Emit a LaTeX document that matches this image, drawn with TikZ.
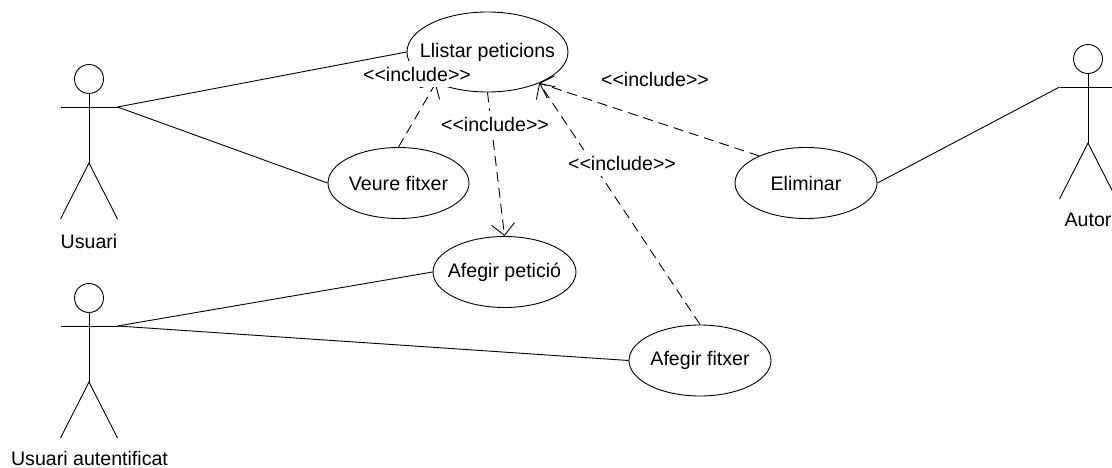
\documentclass[tikz,border=0pt]{standalone}
\usepackage{fontspec}
\setmainfont{Liberation Sans}
\usetikzlibrary{shapes.geometric,arrows.meta}

\tikzset{
  usecase/.style={draw,ellipse,inner xsep=-30pt,inner ysep=-10pt,minimum width=#1,minimum height=71pt},
  includelabel/.style={fill=white,inner sep=1pt,minimum height=26pt},
  actorhead/.style={draw,circle,inner sep=0pt,minimum size=29pt},
  include/.style={dashed,dash pattern=on 10pt off 6pt,-{Straight Barb[length=11.5pt,width=23pt]}},
}

% stick figure: name, x of the body, y of the arms
\newcommand{\actor}[3]{
  \node[actorhead] (#1head) at (#2,#3-28) {};
  \coordinate (#1left) at (#2-28.5,#3);
  \coordinate (#1right) at (#2+28.5,#3);
  \coordinate (#1hip) at (#2,#3+56);
  \coordinate (#1footl) at (#2-28.5,#3+112);
  \coordinate (#1footr) at (#2+28.5,#3+112);
  \draw (#1head) -- (#1hip);
  \draw (#1left) -- (#1right);
  \draw (#1footl) -- (#1hip) -- (#1footr);
}

\begin{document}
\begin{tikzpicture}[x=1pt,y=-1pt,line width=0.9pt,font=\fontsize{19.6}{22}\selectfont]

\useasboundingbox (0,0) rectangle (1112,468);

\actor{usuari}{89}{107}
\actor{autenticat}{89}{326}
\actor{autor}{1088}{87}

\node (usuarilabel) at (89,241) {Usuari};
\node (autenticatlabel) at (89.5,458) {Usuari autentificat};
\node (autorlabel) at (1088,220) {Autor};

\node[usecase=161pt,minimum height=80pt] (llistar) at (487.5,52) {Llistar peticions};
\node[usecase=141pt] (veure) at (398.5,183) {Veure fitxer};
\node[usecase=143pt] (afegirpeticio) at (504.5,272) {Afegir petició};
\node[usecase=142pt] (afegirfitxer) at (700,360.5) {Afegir fitxer};
\node[usecase=142pt] (eliminar) at (806,183) {Eliminar};

\draw (usuariright) -- (llistar.west);
\draw (usuariright) -- (veure.west);
\draw (autenticatright) -- (afegirpeticio.west);
\draw (autenticatright) -- (afegirfitxer.west);
\draw (eliminar.east) -- (autorleft);

\draw[include] (veure.north) -- (llistar.211);
\draw[include] (llistar.south) -- (afegirpeticio.north);
\draw[include] (afegirfitxer.north) -- (llistar.-31);
\draw[include] (eliminar.150) -- (llistar.-31);

\node[includelabel] (include1) at (417,74) {{<}{<}include{>}{>}};
\node[includelabel] (include2) at (495,124) {{<}{<}include{>}{>}};
\node[includelabel] (include3) at (655,79) {{<}{<}include{>}{>}};
\node[includelabel] (include4) at (622,163) {{<}{<}include{>}{>}};

\end{tikzpicture}
\end{document}
